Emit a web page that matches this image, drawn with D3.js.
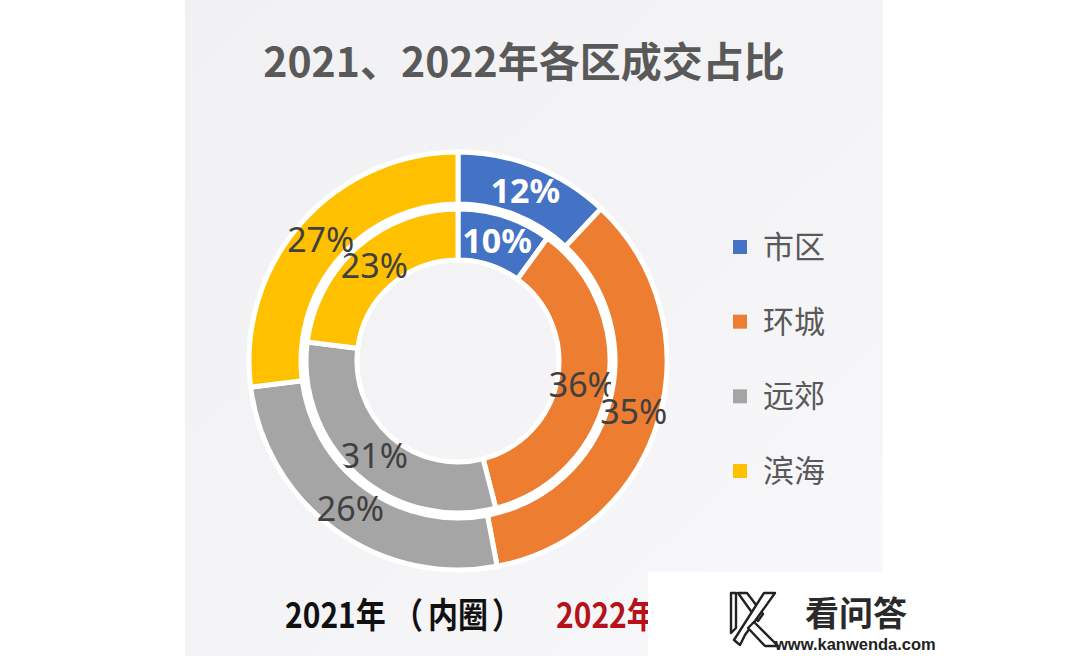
<!DOCTYPE html>
<html>
<head>
<meta charset="utf-8">
<script src="https://cdn.jsdelivr.net/npm/d3@7/dist/d3.min.js"></script>
<style>
  html, body { margin: 0; padding: 0; background: #ffffff; }
  svg { display: block; }
</style>
</head>
<body>
<svg id="chart" width="1080" height="656"></svg>
<script>
// ---- data ----
const title = "2021、2022年各区成交占比";
const categories = ["市区", "环城", "远郊", "滨海"];
const values2021 = [10, 36, 31, 23];   // inner ring
const values2022 = [12, 35, 26, 27];   // outer ring
const colors = ["#4472C4", "#ED7D31", "#A5A5A5", "#FFC000"];
const footInnerParts = ["2021年", "（", "内圈", "）"];
const footOuter = "2022年（外圈）";

// ---- layout ----
const svg = d3.select("#chart");
const W = 1080, H = 656;
const cx = 458, cy = 361;

const defs = svg.append("defs");
const grad = defs.append("linearGradient").attr("id", "bg")
  .attr("x1", "0%").attr("y1", "0%").attr("x2", "100%").attr("y2", "100%");
grad.append("stop").attr("offset", "0%").attr("stop-color", "#f1f1f3");
grad.append("stop").attr("offset", "55%").attr("stop-color", "#f4f4f6");
grad.append("stop").attr("offset", "100%").attr("stop-color", "#f8f8fa");

svg.append("rect").attr("x", 0).attr("y", 0).attr("width", W).attr("height", H).attr("fill", "#ffffff");
svg.append("rect").attr("x", 185).attr("y", 0).attr("width", 698).attr("height", H).attr("fill", "url(#bg)");

// title
svg.append("text")
  .attr("x", 524).attr("y", 77)
  .attr("text-anchor", "middle")
  .attr("font-family", "'Noto Sans CJK SC', sans-serif")
  .attr("font-weight", 700)
  .attr("font-size", 41)
  .attr("fill", "#595959")
  .text(title);

const g = svg.append("g").attr("transform", `translate(${cx},${cy})`);

// white separator ring between the two donuts
g.append("path")
  .attr("d", d3.arc().innerRadius(148).outerRadius(161).startAngle(0).endAngle(2 * Math.PI)())
  .attr("fill", "#ffffff");

const pie = d3.pie().sort(null).value(d => d).startAngle(0).endAngle(2 * Math.PI);

const rings = [
  { values: values2021, inner: 101, outer: 152 },
  { values: values2022, inner: 157, outer: 209 }
];

rings.forEach(ring => {
  const arc = d3.arc().innerRadius(ring.inner).outerRadius(ring.outer);
  const arcs = pie(ring.values);
  g.selectAll(null).data(arcs).enter().append("path")
    .attr("d", arc)
    .attr("fill", (d, i) => colors[i])
    .attr("stroke", "#ffffff")
    .attr("stroke-width", 5)
    .attr("stroke-linejoin", "miter");
  g.selectAll(null).data(arcs).enter().append("text")
    .attr("transform", d => `translate(${arc.centroid(d)})`)
    .attr("text-anchor", "middle")
    .attr("dy", "0.36em")
    .attr("font-family", "'Noto Sans', sans-serif")
    .attr("font-size", 34)
    .attr("font-weight", (d, i) => i === 0 ? 700 : 400)
    .attr("fill", (d, i) => i === 0 ? "#ffffff" : "#404040")
    .text(d => d.data + "%");
});

// legend
const legend = svg.append("g");
const legendY = d3.scalePoint().domain(categories).range([247, 471]);
categories.forEach((c, i) => {
  const y = legendY(c);
  legend.append("rect")
    .attr("x", 733).attr("y", y - 7).attr("width", 14).attr("height", 14)
    .attr("fill", colors[i]);
  legend.append("text")
    .attr("x", 763).attr("y", y + 11)
    .attr("font-family", "'Noto Sans CJK SC', sans-serif")
    .attr("font-size", 31)
    .attr("fill", "#595959")
    .text(c);
});

// footer
const fFont = "'Noto Sans CJK SC', sans-serif";
const foot = svg.append("g").attr("transform", "translate(0,628) scale(1,1.18)");
const fb = foot.append("text").attr("y", 0)
  .attr("font-family", fFont).attr("font-weight", 700).attr("font-size", 30)
  .attr("fill", "#111111");
const partX = [285, 393, 428, 492];
footInnerParts.forEach((p, i) => fb.append("tspan").attr("x", partX[i]).text(p));
foot.append("text").attr("x", 556).attr("y", 0)
  .attr("font-family", fFont).attr("font-weight", 700).attr("font-size", 30)
  .attr("fill", "#b5121b").text(footOuter);

// watermark box
svg.append("rect").attr("x", 648).attr("y", 572).attr("width", W - 648).attr("height", H - 572).attr("fill", "#ffffff");
const wm = svg.append("g").attr("fill", "#ffffff").attr("stroke", "#222222").attr("stroke-width", 2.4).attr("stroke-linejoin", "round");
wm.append("path").attr("d", "M731,593 L736,593 L736,628 L731,633 Z");
wm.append("path").attr("d", "M738,593 L747,593 L763,614 L758,621 Z");
wm.append("path").attr("d", "M764,593 L775,593 L745,635 L740,645 L734,640 Z");
wm.append("path").attr("d", "M748,628 L754,622 L778,646 L765,646 Z");
svg.append("text").attr("x", 805).attr("y", 626)
  .attr("font-family", fFont).attr("font-weight", 700).attr("font-size", 34)
  .attr("fill", "#2a2a2a").text("看问答");
svg.append("text").attr("x", 775).attr("y", 650)
  .attr("font-family", "'Liberation Sans', Arial, sans-serif").attr("font-weight", 700).attr("font-size", 16.5)
  .attr("fill", "#222222").text("www.kanwenda.com");
</script>
</body>
</html>
